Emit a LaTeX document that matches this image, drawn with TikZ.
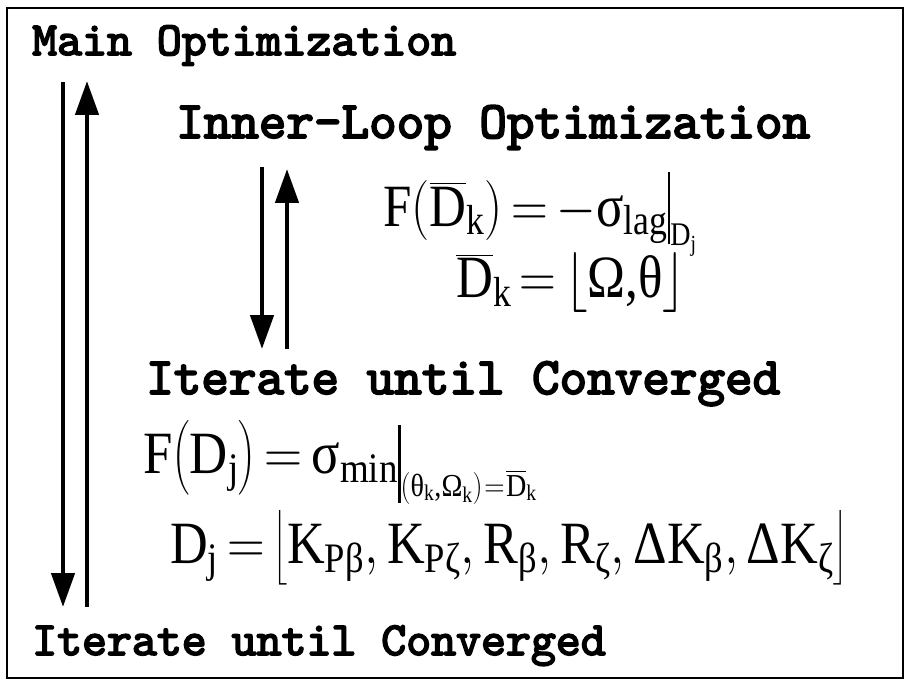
\documentclass[tikz,border=0pt]{standalone}
\usepackage{fix-cm}
\usepackage{amsmath}
\usepackage{graphicx}
\usepackage{fontspec}
\setmainfont{Liberation Serif}
\newfontfamily\tyb{lmmono10-regular.otf}[FakeBold=3.5]
\newcommand\mytx[1]{\text{#1}}
\usetikzlibrary{arrows.meta}
\begin{document}
\begin{tikzpicture}[x=1pt,y=-1pt,
  lbl/.style={anchor=base west,inner sep=0pt,font={\tyb\bfseries\fontsize{47.5}{50}\selectfont}},
  ilbl/.style={anchor=base west,inner sep=0pt,font={\tyb\bfseries\fontsize{52.5}{56}\selectfont}},
  eq/.style={anchor=base west,inner sep=0pt,font={\fontsize{60}{64}\selectfont}},
  arr/.style={line width=4.5pt,-{Triangle[width=23pt,length=34pt]}},
  frame/.style={line width=2pt}]
\useasboundingbox (0,0) rectangle (906,682);
\draw[frame] (7,8) rectangle (903,678);
\node[lbl] (main) at (32,55) {Main Optimization};
\node[ilbl] (inner) at (176,138) {Inner-Loop Optimization};
\node[ilbl] (iter1) at (146,394) {Iterate until Converged};
\node[lbl] (iter2) at (32,655) {Iterate until Converged};
\coordinate (mdA) at (63,82);
\coordinate (mdB) at (63,607);
\coordinate (muA) at (87,607);
\coordinate (muB) at (87,81);
\coordinate (idA) at (262,167);
\coordinate (idB) at (262,349);
\coordinate (iuA) at (287,349);
\coordinate (iuB) at (287,169);
\draw[arr] (mdA) -- (mdB);
\draw[arr] (muA) -- (muB);
\draw[arr] (idA) -- (idB);
\draw[arr] (iuA) -- (iuB);
\node[eq] (e1) at (383,226) {\scalebox{0.85}[1]{$\thickmuskip=3mu\mytx{F}\!\left(\overline{\mytx{D}}_{\mytx{k}}\right)=-\mytx{σ}_{\mytx{lag}}$\rule[-18pt]{3pt}{72pt}\raisebox{-19pt}{\fontsize{33}{33}\selectfont D\raisebox{-6pt}{\fontsize{23}{23}\selectfont j}}}};
\node[eq] (e2) at (456,298) {\scalebox{0.85}[1]{$\thickmuskip=3mu\overline{\mytx{D}}_{\mytx{k}}=\left\lfloor\mytx{Ω,θ}\right\rfloor$}};
\node[eq] (e3) at (143,473) {\scalebox{0.88}[1]{$\thickmuskip=3mu\mytx{F}\!\left(\mytx{D}_{\mytx{j}}\right)=\mytx{σ}_{\mytx{min}}$\rule[-30pt]{3pt}{78pt}\raisebox{-23pt}{\fontsize{32}{32}\selectfont$\thickmuskip=1mu(\mytx{θ}_{\mytx{k}}\mytx{,Ω}_{\mytx{k}})=\overline{\mytx{D}}_{\mytx{k}}$}}};
\node[eq] (e4) at (170,563) {\scalebox{0.87}[1]{$\thickmuskip=3mu\mytx{D}_{\mytx{j}}=\left\lfloor\mytx{K}_{\mytx{Pβ}},\mytx{K}_{\mytx{Pζ}},\mytx{R}_{\mytx{β}},\mytx{R}_{\mytx{ζ}},\mytx{ΔK}_{\mytx{β}},\mytx{ΔK}_{\mytx{ζ}}\right\rfloor$}};
\end{tikzpicture}
\end{document}
